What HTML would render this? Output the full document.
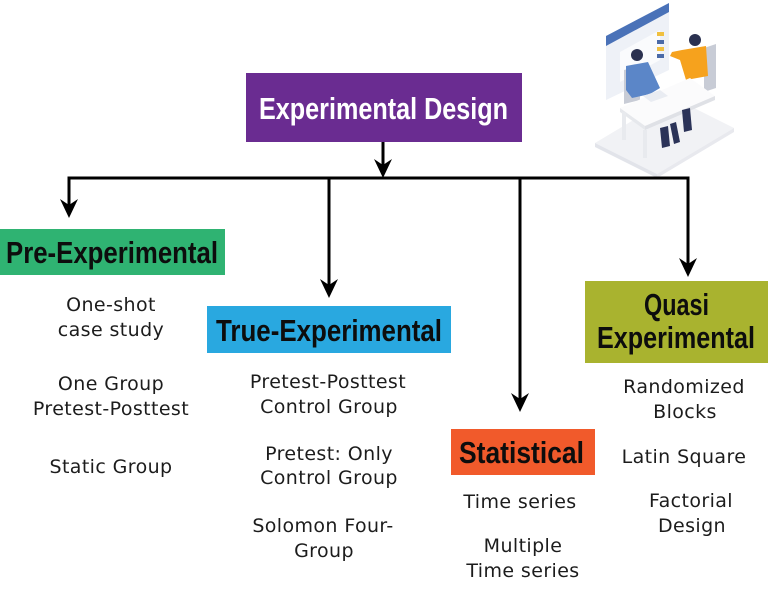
<!DOCTYPE html>
<html><head><meta charset="utf-8"><style>
html,body{margin:0;padding:0;background:#fff;width:768px;height:589px;overflow:hidden}
svg{display:block}
.h{font-family:"Liberation Sans Narrow","Liberation Sans",sans-serif;font-weight:bold;font-size:31px}
.b{font-family:"DejaVu Sans","Liberation Sans",sans-serif;font-size:19px;letter-spacing:0.4px;fill:#1c1c1c;text-anchor:middle}
</style></head><body>
<svg width="768" height="589" viewBox="0 0 768 589" xmlns="http://www.w3.org/2000/svg">
<!-- illustration -->
<g>
  <polygon points="595,143 657,174 734,128 672,97" fill="#f1f2f5"/>
  <polygon points="595,143 657,174 657,178 595,147" fill="#e2e4ea"/>
  <polygon points="657,174 734,128 734,132 657,178" fill="#e8e9ee"/>
  <!-- screen panel -->
  <polygon points="606,36 669,3 669,70 606,100" fill="#eef1f7"/>
  <polygon points="606,36 669,3 669,12 606,46" fill="#4a72b8"/>
  <polygon points="620,52 660,30 660,60 620,82" fill="#fafbfd"/>
  <rect x="657" y="32" width="7" height="4" fill="#f0c040"/>
  <rect x="657" y="40" width="7" height="4" fill="#4a6aa8"/>
  <rect x="657" y="47" width="7" height="4" fill="#f0c040"/>
  <rect x="657" y="54" width="7" height="4" fill="#4a6aa8"/>
  <!-- chairs -->
  <polygon points="624,70 640,66 640,100 624,104" fill="#c8ccd6"/>
  <polygon points="704,48 716,44 716,88 704,92" fill="#c8ccd6"/>
  <!-- blue person -->
  <circle cx="637" cy="55" r="6" fill="#2b3150"/>
  <polygon points="626,66 648,62 660,88 650,94 632,98 626,90" fill="#5b86c8"/>
  <!-- orange person -->
  <circle cx="695" cy="40" r="6" fill="#2b3150"/>
  <polygon points="682,50 706,46 708,76 686,80 680,60 670,56 672,52" fill="#f6a21d"/>
  <!-- table -->
  <polygon points="620,108 690,78 715,96 645,126" fill="#fbfbfc"/>
  <polygon points="645,126 715,96 715,100 645,130" fill="#dfe1e6"/>
  <polygon points="620,108 645,126 645,130 620,112" fill="#e6e8ec"/>
  <rect x="622" y="112" width="4" height="28" fill="#e8eaee"/>
  <rect x="643" y="130" width="4" height="28" fill="#e8eaee"/>
  <!-- legs -->
  <polygon points="660,128 668,126 670,146 662,148" fill="#2b3358"/>
  <polygon points="670,124 676,122 680,142 674,144" fill="#2b3358"/>
  <polygon points="682,110 690,108 692,130 684,132" fill="#2b3358"/>
  <!-- laptop -->
  <polygon points="643,96 660,90 668,96 651,102" fill="#e9ecf2"/>
</g>

<!-- connectors -->
<g stroke="#000" stroke-width="3" fill="none">
  <line x1="383" y1="142" x2="383" y2="170"/>
  <line x1="67.5" y1="178" x2="689.5" y2="178"/>
  <line x1="69" y1="178" x2="69" y2="210"/>
  <line x1="329" y1="178" x2="329" y2="290"/>
  <line x1="520" y1="178" x2="520" y2="404"/>
  <line x1="688" y1="178" x2="688" y2="269"/>
</g>
<g fill="#000">
  <path d="M374,159 L383,178 L392,159 L383,165 Z"/>
  <path d="M60,199 L69,218 L78,199 L69,205 Z"/>
  <path d="M320,279 L329,298 L338,279 L329,285 Z"/>
  <path d="M511,393 L520,412 L529,393 L520,399 Z"/>
  <path d="M679,258 L688,277 L697,258 L688,264 Z"/>
</g>

<!-- boxes -->
<rect x="246" y="73" width="276" height="69" fill="#6a2c91"/>
<text class="h" x="259" y="119" fill="#fff" textLength="249" lengthAdjust="spacingAndGlyphs">Experimental Design</text>

<rect x="0" y="229" width="225" height="46" fill="#2fb372"/>
<text class="h" x="6" y="263" fill="#0d0d0d" textLength="212" lengthAdjust="spacingAndGlyphs">Pre-Experimental</text>

<rect x="207" y="306" width="244" height="47" fill="#29a8e0"/>
<text class="h" x="216" y="341" fill="#0d0d0d" textLength="226" lengthAdjust="spacingAndGlyphs">True-Experimental</text>

<rect x="451" y="429" width="144" height="46" fill="#f15a2b"/>
<text class="h" x="459" y="463" fill="#0d0d0d" textLength="125" lengthAdjust="spacingAndGlyphs">Statistical</text>

<rect x="585" y="281" width="183" height="82" fill="#a9b32f"/>
<text class="h" x="644" y="315" fill="#0d0d0d" textLength="65" lengthAdjust="spacingAndGlyphs">Quasi</text>
<text class="h" x="597" y="348" fill="#0d0d0d" textLength="158" lengthAdjust="spacingAndGlyphs">Experimental</text>

<!-- Pre list -->
<text class="b" x="111" y="311">One-shot</text>
<text class="b" x="111" y="336">case study</text>
<text class="b" x="111" y="390">One Group</text>
<text class="b" x="111" y="415">Pretest-Posttest</text>
<text class="b" x="111" y="473">Static Group</text>

<!-- True list -->
<text class="b" x="328" y="388">Pretest-Posttest</text>
<text class="b" x="329" y="413">Control Group</text>
<text class="b" x="329" y="460">Pretest: Only</text>
<text class="b" x="329" y="484">Control Group</text>
<text class="b" x="323" y="532">Solomon Four-</text>
<text class="b" x="324" y="557">Group</text>

<!-- Statistical list -->
<text class="b" x="520" y="508">Time series</text>
<text class="b" x="523" y="552">Multiple</text>
<text class="b" x="523" y="577">Time series</text>

<!-- Quasi list -->
<text class="b" x="684" y="393">Randomized</text>
<text class="b" x="685" y="418">Blocks</text>
<text class="b" x="684" y="463">Latin Square</text>
<text class="b" x="691" y="507">Factorial</text>
<text class="b" x="692" y="532">Design</text>
</svg>
</body></html>
